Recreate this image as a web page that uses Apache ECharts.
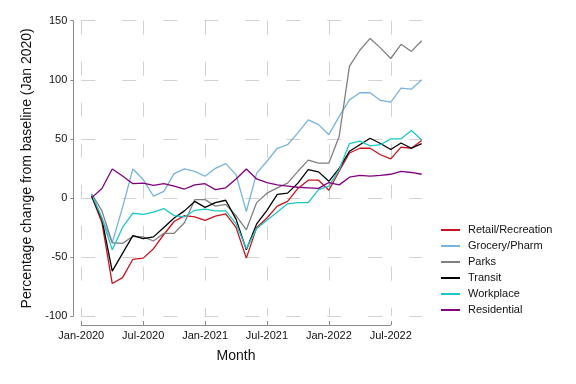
<!DOCTYPE html>
<html>
<head>
<meta charset="utf-8">
<script src="https://cdn.jsdelivr.net/npm/echarts@6/dist/echarts.min.js"></script>
<style>html,body{margin:0;padding:0;background:#fff}#c{width:576px;height:384px}</style>
</head>
<body>
<div id="c"></div>
<script>
const months = ['2020-02','2020-03','2020-04','2020-05','2020-06','2020-07','2020-08','2020-09','2020-10','2020-11','2020-12',
  '2021-01','2021-02','2021-03','2021-04','2021-05','2021-06','2021-07','2021-08','2021-09','2021-10','2021-11','2021-12',
  '2022-01','2022-02','2022-03','2022-04','2022-05','2022-06','2022-07','2022-08','2022-09','2022-10'];
const retail = [1.5,-21,-72.5,-67.5,-52,-51,-43,-31,-20,-15,-16,-19,-15.5,-13.5,-25,-51,-25,-17,-7,-3,8,15,15,6.5,22.5,38,42,42,36.5,33,43,42,48.5];
const grocery = [3,-17,-38,-8,24.5,15.5,1.5,5.5,20.5,24.5,22.5,18.3,25,29,19.7,-11.5,21,31,42,45,55,66,62,53.5,69,83,89,89,82.5,81,93,92,100];
const parks = [3.5,-11,-38,-38.5,-32.5,-33,-36.5,-30,-30,-21,-1.5,-1.5,-7,-5.5,-15,-27,-4,4,8.5,12.5,22.5,32,29.5,29.5,52,111.5,125,135,127,118,130,124,133];
const transit = [1.5,-18,-62,-47,-32,-34.5,-33,-25,-17,-11,-3,-8,-4,-2,-18,-44,-22,-10.5,3,4,12.5,24,22,14,25,39.5,45,50.5,46,41,46.5,42,46];
const workplace = [3,-17,-44,-25,-13,-14,-12,-9,-15,-16,-10.5,-9.5,-11,-11,-22,-43,-26,-19,-12,-5,-4,-4,7,10,24,46,48,44,45,50,50,57,49];
const residential = [0,8,24.5,18.5,12,12.5,10.5,12,10,7.5,11,12,7,8.5,16,24.5,16,13,11,10,9,8.5,8,13,11,17.5,19,18.5,19,20,22.5,21.5,20];
const seriesNames = ['Retail/Recreation','Grocery/Pharm','Parks','Transit','Workplace','Residential'];
const seriesData = [retail, grocery, parks, transit, workplace, residential];
const colors = ['#c8141e','#78b4dc','#808080','#000000','#1cc8c8','#800080'];
const xTickLabels = ['Jan-2020','Jul-2020','Jan-2021','Jul-2021','Jan-2022','Jul-2022'];
const yTicks = [-100,-50,0,50,100,150];

const monthIndex = s => { const [y,m] = s.split('-').map(Number); return (y-2020)*12 + (m-1); };
const xs = months.map(monthIndex);

const FONT = 'Liberation Sans, Arial, sans-serif';
const gridLeft = 81.3, gridTop = 20.7, gridH = 295.3;
const pxPerMonth = 10.315;
const gridLine = {show:true, lineStyle:{color:'#d2d2d2', width:1, type:[14,27]}};

const chart = echarts.init(document.getElementById('c'), null, {renderer:'canvas'});
chart.setOption({
  animation:false,
  backgroundColor:'#fff',
  textStyle:{fontFamily:FONT},
  grid:[
    {left:gridLeft, top:gridTop, width:33*pxPerMonth, height:gridH},
    {left:gridLeft, top:gridTop, width:30*pxPerMonth, height:gridH}
  ],
  xAxis:[
    {type:'value', gridIndex:0, min:0, max:33, interval:6,
     axisLine:{show:false, onZero:false}, axisTick:{show:false}, axisLabel:{show:false},
     splitLine:Object.assign({showMaxLine:false}, gridLine)},
    {type:'value', gridIndex:1, min:0, max:30, interval:6, offset:9,
     axisLine:{show:true, onZero:false, lineStyle:{color:'#8c8c8c', width:1}},
     axisTick:{show:true, inside:true, length:4, lineStyle:{color:'#8c8c8c'}},
     axisLabel:{show:true, margin:5, fontSize:11, color:'#111', fontFamily:FONT,
       formatter:v => xTickLabels[Math.round(v/6)] || ''},
     splitLine:{show:false},
     name:'Month', nameLocation:'middle', nameGap:24,
     nameTextStyle:{fontSize:14, color:'#111', fontFamily:FONT}}
  ],
  yAxis:[
    {type:'value', gridIndex:0, min:yTicks[0], max:yTicks[yTicks.length-1], interval:50, offset:8,
     axisLine:{show:true, onZero:false, lineStyle:{color:'#8c8c8c', width:1}},
     axisTick:{show:true, inside:false, length:3, lineStyle:{color:'#8c8c8c'}},
     axisLabel:{margin:6, fontSize:11, color:'#111', fontFamily:FONT},
     splitLine:gridLine,
     name:'Percentage change from baseline (Jan 2020)', nameLocation:'middle', nameGap:37,
     nameTextStyle:{fontSize:14, color:'#111', fontFamily:FONT}},
    {type:'value', gridIndex:1, min:-100, max:150, show:false, axisLine:{onZero:false}}
  ],
  legend:{
    orient:'vertical', left:436, top:218, itemWidth:19, itemHeight:2, itemGap:2, icon:'rect',
    textStyle:{fontSize:11, color:'#111', fontFamily:FONT, lineHeight:14, padding:[0,0,0,3]},
    data:seriesNames
  },
  series: seriesNames.map((n,i)=>({
    name:n, type:'line', xAxisIndex:0, yAxisIndex:0, showSymbol:false, symbol:'none',
    color:colors[i], lineStyle:{color:colors[i], width:1.3},
    data: xs.map((x,j)=>[x, seriesData[i][j]])
  }))
});
</script>
</body>
</html>
